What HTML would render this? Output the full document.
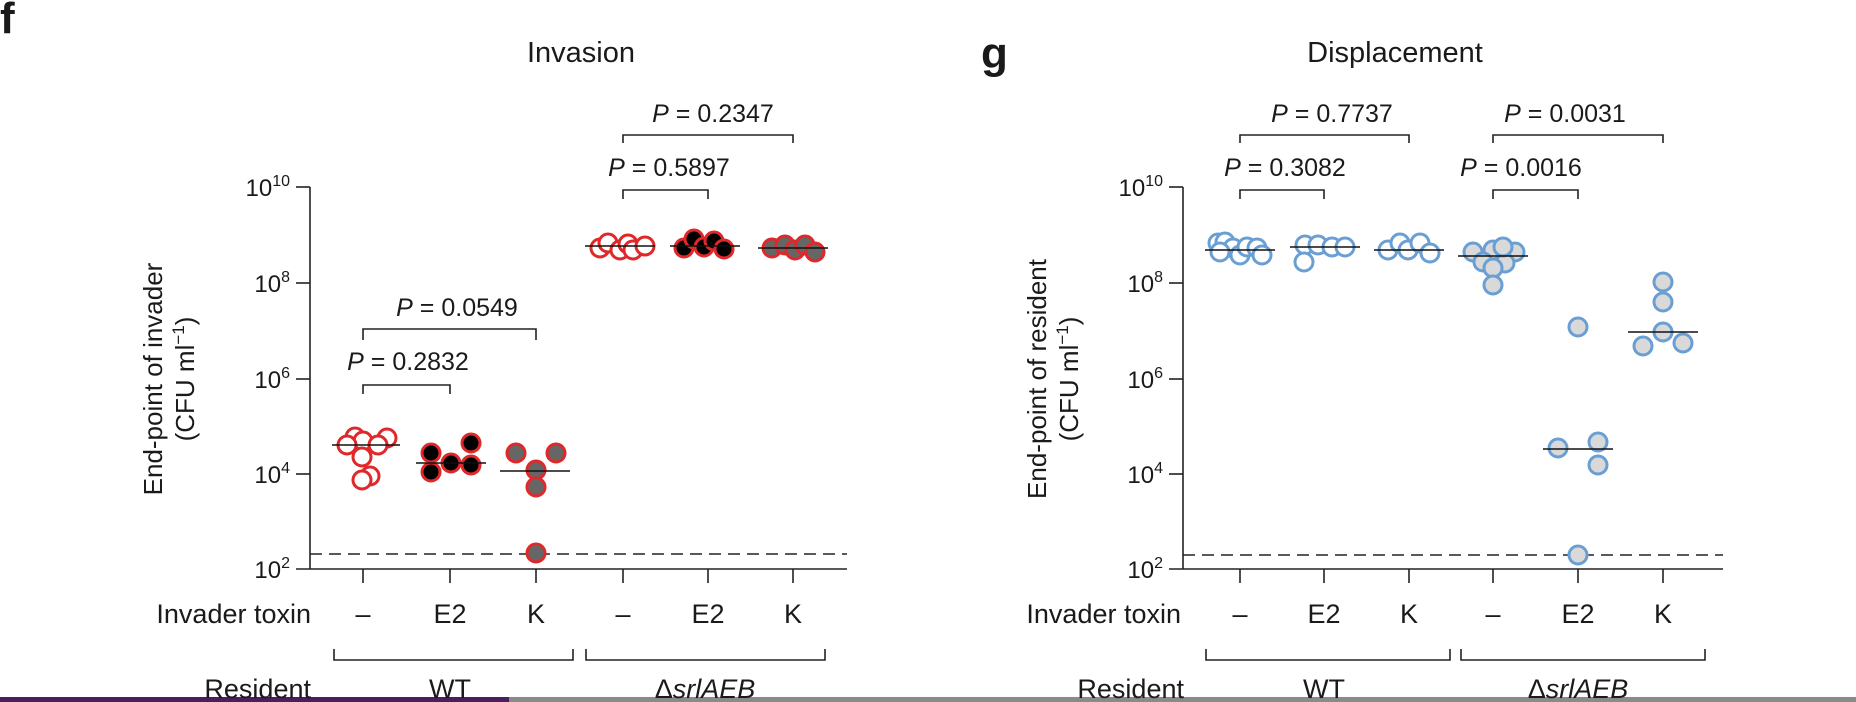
<!DOCTYPE html>
<html><head><meta charset="utf-8"><style>
html,body{margin:0;padding:0;background:#fff;}
svg{display:block;}
text{font-family:"Liberation Sans",sans-serif;fill:#1a1a1a;}
</style></head><body>
<svg width="1856" height="702" viewBox="0 0 1856 702" xmlns="http://www.w3.org/2000/svg">
<rect x="0" y="0" width="1856" height="702" fill="#fff"/>
<rect x="0" y="697" width="509" height="5" fill="#4a1f5c"/>
<rect x="509" y="697" width="1347" height="5" fill="#8a8a8a"/>
<text x="0" y="33" font-size="44" font-weight="bold">f</text>
<text x="581" y="62" font-size="29" text-anchor="middle">Invasion</text>
<text x="981" y="68" font-size="44" font-weight="bold">g</text>
<text x="1395" y="62" font-size="29" text-anchor="middle">Displacement</text>

<g stroke="#222" stroke-width="1.6" fill="none">
<line x1="310" y1="187" x2="310" y2="569"/>
<line x1="296" y1="569" x2="847" y2="569"/>
<line x1="296" y1="187" x2="310" y2="187"/><line x1="296" y1="283" x2="310" y2="283"/><line x1="296" y1="379" x2="310" y2="379"/><line x1="296" y1="474" x2="310" y2="474"/>
<line x1="363" y1="569" x2="363" y2="583"/><line x1="450" y1="569" x2="450" y2="583"/><line x1="536" y1="569" x2="536" y2="583"/><line x1="623" y1="569" x2="623" y2="583"/><line x1="708" y1="569" x2="708" y2="583"/><line x1="793" y1="569" x2="793" y2="583"/>
<line x1="310" y1="554" x2="847" y2="554" stroke-dasharray="12,7"/>
<line x1="1183" y1="187" x2="1183" y2="569"/>
<line x1="1169" y1="569" x2="1723" y2="569"/>
<line x1="1169" y1="187" x2="1183" y2="187"/><line x1="1169" y1="283" x2="1183" y2="283"/><line x1="1169" y1="379" x2="1183" y2="379"/><line x1="1169" y1="474" x2="1183" y2="474"/>
<line x1="1240" y1="569" x2="1240" y2="583"/><line x1="1324" y1="569" x2="1324" y2="583"/><line x1="1409" y1="569" x2="1409" y2="583"/><line x1="1493" y1="569" x2="1493" y2="583"/><line x1="1578" y1="569" x2="1578" y2="583"/><line x1="1663" y1="569" x2="1663" y2="583"/>
<line x1="1183" y1="555" x2="1723" y2="555" stroke-dasharray="12,7"/>
<polyline points="363,394 363,385 450,385 450,394"/>
<polyline points="363,340 363,329 536,329 536,340"/>
<polyline points="623,199 623,190 708,190 708,199"/>
<polyline points="623,143 623,135 793,135 793,143"/>
<polyline points="1240,199 1240,190 1324,190 1324,199"/>
<polyline points="1240,143 1240,135 1409,135 1409,143"/>
<polyline points="1493,199 1493,190 1578,190 1578,199"/>
<polyline points="1493,143 1493,135 1663,135 1663,143"/>
<polyline points="334,649 334,660 573,660 573,649"/>
<polyline points="586,649 586,660 825,660 825,649"/>
<polyline points="1206,649 1206,660 1450,660 1450,649"/>
<polyline points="1461,649 1461,660 1705,660 1705,649"/>
</g>

<g font-size="24">
<text x="290" y="196" text-anchor="end">10<tspan font-size="16" dy="-10">10</tspan></text>
<text x="290" y="292" text-anchor="end">10<tspan font-size="16" dy="-10">8</tspan></text>
<text x="290" y="388" text-anchor="end">10<tspan font-size="16" dy="-10">6</tspan></text>
<text x="290" y="483" text-anchor="end">10<tspan font-size="16" dy="-10">4</tspan></text>
<text x="290" y="578" text-anchor="end">10<tspan font-size="16" dy="-10">2</tspan></text>
<text x="1163" y="196" text-anchor="end">10<tspan font-size="16" dy="-10">10</tspan></text>
<text x="1163" y="292" text-anchor="end">10<tspan font-size="16" dy="-10">8</tspan></text>
<text x="1163" y="388" text-anchor="end">10<tspan font-size="16" dy="-10">6</tspan></text>
<text x="1163" y="483" text-anchor="end">10<tspan font-size="16" dy="-10">4</tspan></text>
<text x="1163" y="578" text-anchor="end">10<tspan font-size="16" dy="-10">2</tspan></text>
</g>

<g font-size="26" text-anchor="middle">
<text transform="translate(162,379) rotate(-90)">End-point of invader</text>
<text transform="translate(194,379) rotate(-90)">(CFU ml<tspan font-size="17" dy="-10">−1</tspan><tspan dy="10">)</tspan></text>
<text transform="translate(1046,379) rotate(-90)">End-point of resident</text>
<text transform="translate(1078,379) rotate(-90)">(CFU ml<tspan font-size="17" dy="-10">−1</tspan><tspan dy="10">)</tspan></text>
</g>
<g font-size="25" text-anchor="middle">
<text x="408" y="370"><tspan font-style="italic">P</tspan> = 0.2832</text>
<text x="457" y="316"><tspan font-style="italic">P</tspan> = 0.0549</text>
<text x="669" y="176"><tspan font-style="italic">P</tspan> = 0.5897</text>
<text x="713" y="122"><tspan font-style="italic">P</tspan> = 0.2347</text>
<text x="1285" y="176"><tspan font-style="italic">P</tspan> = 0.3082</text>
<text x="1332" y="122"><tspan font-style="italic">P</tspan> = 0.7737</text>
<text x="1521" y="176"><tspan font-style="italic">P</tspan> = 0.0016</text>
<text x="1565" y="122"><tspan font-style="italic">P</tspan> = 0.0031</text>
</g>

<g font-size="27" text-anchor="middle">
<text x="311" y="623" text-anchor="end">Invader toxin</text>
<text x="363" y="623">–</text><text x="450" y="623">E2</text><text x="536" y="623">K</text>
<text x="623" y="623">–</text><text x="708" y="623">E2</text><text x="793" y="623">K</text>
<text x="311" y="698" text-anchor="end">Resident</text>
<text x="450" y="698">WT</text>
<text x="705" y="698">Δ<tspan font-style="italic">srlAEB</tspan></text>
<text x="1181" y="623" text-anchor="end">Invader toxin</text>
<text x="1240" y="623">–</text><text x="1324" y="623">E2</text><text x="1409" y="623">K</text>
<text x="1493" y="623">–</text><text x="1578" y="623">E2</text><text x="1663" y="623">K</text>
<text x="1184" y="698" text-anchor="end">Resident</text>
<text x="1324" y="698">WT</text>
<text x="1578" y="698">Δ<tspan font-style="italic">srlAEB</tspan></text>
</g>

<g stroke="#e0282a" stroke-width="3">
<g fill="#fff">
<circle cx="355" cy="437" r="9"/><circle cx="363" cy="441" r="9"/><circle cx="387" cy="438" r="9"/><circle cx="347" cy="445" r="9"/><circle cx="378" cy="445" r="9"/><circle cx="362" cy="457" r="9"/><circle cx="370" cy="476" r="9"/><circle cx="362" cy="480" r="9"/>
<circle cx="600" cy="248" r="9"/><circle cx="608" cy="243" r="9"/><circle cx="620" cy="250" r="9"/><circle cx="628" cy="244" r="9"/><circle cx="633" cy="250" r="9"/><circle cx="645" cy="246" r="9"/>
</g>
<g fill="#000">
<circle cx="431" cy="453" r="9"/><circle cx="471" cy="443" r="9"/><circle cx="451" cy="463" r="9"/><circle cx="431" cy="472" r="9"/><circle cx="471" cy="465" r="9"/>
<circle cx="684" cy="248" r="9"/><circle cx="694" cy="239" r="9"/><circle cx="704" cy="247" r="9"/><circle cx="714" cy="241" r="9"/><circle cx="724" cy="249" r="9"/>
</g>
<g fill="#666">
<circle cx="516" cy="453" r="9"/><circle cx="556" cy="453" r="9"/><circle cx="536" cy="470" r="9"/><circle cx="536" cy="487" r="9"/><circle cx="536" cy="553" r="9"/>
<circle cx="772" cy="248" r="9"/><circle cx="785" cy="245" r="9"/><circle cx="795" cy="250" r="9"/><circle cx="805" cy="245" r="9"/><circle cx="815" cy="252" r="9"/>
</g>
</g>
<g stroke="#111" stroke-width="1.6">
<line x1="332" y1="445" x2="400" y2="445"/><line x1="416" y1="463" x2="486" y2="463"/><line x1="500" y1="471" x2="570" y2="471"/>
<line x1="585" y1="246" x2="655" y2="246"/><line x1="670" y1="246" x2="740" y2="246"/><line x1="758" y1="248" x2="828" y2="248"/>
</g>

<g stroke="#6a9fd4" stroke-width="3">
<g fill="#fff">
<circle cx="1218" cy="243" r="9"/><circle cx="1225" cy="242" r="9"/><circle cx="1233" cy="248" r="9"/><circle cx="1240" cy="255" r="9"/><circle cx="1247" cy="247" r="9"/><circle cx="1257" cy="248" r="9"/><circle cx="1262" cy="255" r="9"/><circle cx="1220" cy="252" r="9"/>
<circle cx="1305" cy="245" r="9"/><circle cx="1318" cy="245" r="9"/><circle cx="1332" cy="247" r="9"/><circle cx="1345" cy="247" r="9"/><circle cx="1304" cy="262" r="9"/>
<circle cx="1388" cy="250" r="9"/><circle cx="1400" cy="243" r="9"/><circle cx="1408" cy="250" r="9"/><circle cx="1420" cy="243" r="9"/><circle cx="1430" cy="253" r="9"/>
</g>
<g fill="#d9d9d9">
<circle cx="1473" cy="252" r="9"/><circle cx="1493" cy="250" r="9"/><circle cx="1515" cy="252" r="9"/><circle cx="1483" cy="262" r="9"/><circle cx="1505" cy="263" r="9"/><circle cx="1503" cy="247" r="9"/><circle cx="1493" cy="268" r="9"/><circle cx="1493" cy="285" r="9"/>
<circle cx="1578" cy="327" r="9"/><circle cx="1558" cy="448" r="9"/><circle cx="1598" cy="442" r="9"/><circle cx="1598" cy="465" r="9"/><circle cx="1578" cy="555" r="9"/>
<circle cx="1663" cy="282" r="9"/><circle cx="1663" cy="302" r="9"/><circle cx="1663" cy="332" r="9"/><circle cx="1643" cy="346" r="9"/><circle cx="1683" cy="343" r="9"/>
</g>
</g>
<g stroke="#111" stroke-width="1.6">
<line x1="1205" y1="250" x2="1275" y2="250"/><line x1="1290" y1="247" x2="1360" y2="247"/><line x1="1374" y1="250" x2="1444" y2="250"/>
<line x1="1458" y1="256" x2="1528" y2="256"/><line x1="1543" y1="449" x2="1613" y2="449"/><line x1="1628" y1="332" x2="1698" y2="332"/>
</g>
</svg>
</body></html>
